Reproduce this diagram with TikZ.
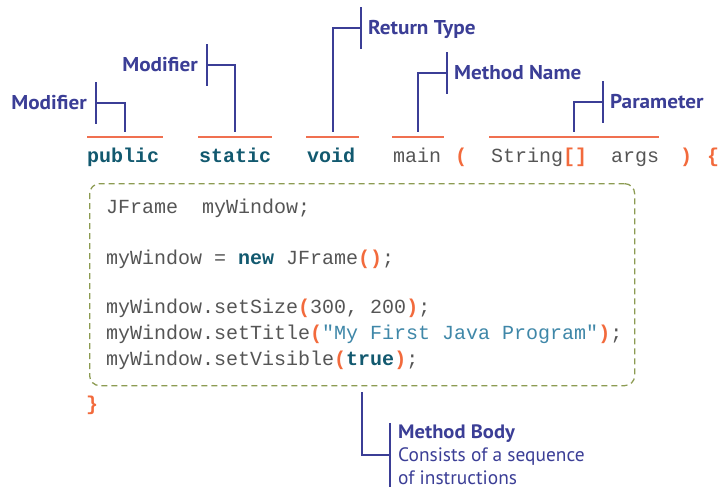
\documentclass[tikz,border=0pt]{standalone}
\usepackage{fontspec}
\setmainfont{PT Sans}
\setmonofont{Liberation Mono}
\newfontfamily\lblfont[BoldFeatures={FakeStretch=1.06}]{PT Sans}
\frenchspacing
\definecolor{lblue}{HTML}{3B3E96}
\definecolor{codegray}{HTML}{555555}
\definecolor{kw}{HTML}{12596F}
\definecolor{strc}{HTML}{3F87A8}
\definecolor{orng}{HTML}{F26A3C}
\definecolor{olive}{HTML}{8C9B52}
\definecolor{uline}{HTML}{F07050}
\newcommand\ckw[1]{{\bfseries\color{kw}#1}}
\newcommand\cop[1]{{\bfseries\color{orng}#1}}
\newcommand\cstr[1]{{\color{strc}#1}}
\begin{document}
\begin{tikzpicture}[x=1pt,y=-1pt,
  lbl/.style={font=\lblfont\fontsize{20}{24}\selectfont\bfseries, text=lblue, inner xsep=9pt, inner ysep=0pt, minimum height=41pt, text height=14pt, text depth=0pt},
  br/.style={draw=lblue, line width=2pt},
  ul/.style={draw=uline, line width=1.1pt},
  code/.style={font=\fontsize{20}{26}\selectfont\ttfamily, text=codegray, inner sep=0pt, anchor=base west},
  kwd/.style={code, text=kw, font=\fontsize{20}{26}\selectfont\ttfamily\bfseries},
  punct/.style={code, text=orng, font=\fontsize{20}{26}\selectfont\ttfamily\bfseries},
  bodybox/.style={draw=olive, line width=1.3pt, dash pattern=on 6pt off 4pt, rounded corners=10pt, minimum width=545pt, minimum height=202pt, inner sep=0pt, anchor=north west}]
\useasboundingbox (0,0) rectangle (719,489);

% header tokens
\node[kwd] (pub) at (87,162) {public};
\node[kwd] (sta) at (199,162) {static};
\node[kwd] (voi) at (307,162) {void};
\node[code] (mai) at (393,162) {main};
\node[punct] (lp) at (455,162) {(};
\node[code] (arg) at (491,162) {String\cop{[]}\ \ args};
\node[punct] (rp) at (680,162) {)};
\node[punct] (lb) at (707,162) {\{};

% underlines
\coordinate (u1a) at (87,137);  \coordinate (u1b) at (163,137);
\coordinate (u2a) at (198,137); \coordinate (u2b) at (272,137);
\coordinate (u3a) at (306,137); \coordinate (u3b) at (359,137);
\coordinate (u4a) at (392,137); \coordinate (u4b) at (444,137);
\coordinate (u5a) at (489,137); \coordinate (u5b) at (659,137);
\draw[ul] (u1a) -- (u1b);
\draw[ul] (u2a) -- (u2b);
\draw[ul] (u3a) -- (u3b);
\draw[ul] (u4a) -- (u4b);
\draw[ul] (u5a) -- (u5b);

% tick ends
\coordinate (t1) at (125,132);
\coordinate (t2) at (235,132);
\coordinate (t3) at (333,132);
\coordinate (t4) at (418,132);
\coordinate (t5) at (574,132);

% labels
\node[lbl, anchor=east] (m1) at (96,103) {Modifier};
\node[lbl, anchor=east] (m2) at (207,65) {Modifier};
\node[lbl, anchor=west, inner xsep=7pt] (rt) at (361,28) {Return Type};
\node[lbl, anchor=west, inner xsep=7pt] (mn) at (447,73) {Method Name};
\node[lbl, anchor=west, inner xsep=7pt] (pa) at (603,102) {Parameter};

\draw[br] (m1.north east) -- (m1.south east);
\draw[br] (m2.north east) -- (m2.south east);
\draw[br] (rt.north west) -- (rt.south west);
\draw[br] (mn.north west) -- (mn.south west);
\draw[br] (pa.north west) -- (pa.south west);

\draw[br] (m1.east) -| (t1);
\draw[br] (m2.east) -| (t2);
\draw[br] (rt.west) -| (t3);
\draw[br] (mn.west) -| (t4);
\draw[br] (pa.west) -| (t5);

% body
\node[bodybox] (body) at (89,183) {};
\node[code] (l1) at (106,213) {JFrame\ \ myWindow;};
\node[code] (l2) at (106,264) {myWindow = \ckw{new} JFrame\cop{()};};
\node[code] (l3) at (106,313) {myWindow.setSize\cop{(}300, 200\cop{)};};
\node[code] (l4) at (106,339) {myWindow.setTitle\cop{(}\cstr{"My First Java Program"}\cop{)};};
\node[code] (l5) at (106,365) {myWindow.setVisible\cop{(}\ckw{true}\cop{)};};
\node[punct] (rb) at (86,410) {\}};

% method body label
\coordinate (tb) at (362,392);
\node[anchor=west, inner xsep=8pt, inner ysep=0pt, minimum height=64pt, align=left, text=lblue, font=\lblfont\fontsize{19.4}{23}\selectfont] (mb) at (390,455) {\textbf{Method Body}\\Consists of a sequence\\of instructions};
\draw[br] (mb.north west) -- (mb.south west);
\draw[br] (tb) |- (mb.west);
\end{tikzpicture}
\end{document}
